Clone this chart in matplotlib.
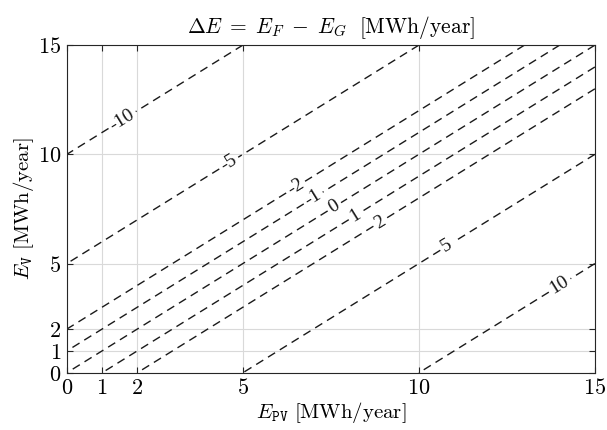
#Contour chart of energy difference
import numpy as np
import matplotlib
matplotlib.use('Agg')
import matplotlib.pyplot as plt

#Computer Modern look for the axis text
plt.rcParams['font.family'] = 'serif'
plt.rcParams['font.serif'] = ['cmr10', 'DejaVu Serif']
plt.rcParams['mathtext.fontset'] = 'cm'
plt.rcParams['axes.unicode_minus'] = False
plt.rcParams['axes.formatter.use_mathtext'] = True

#Data
e_pv = np.linspace(0, 15, 61)   #E_PV axis [MWh/year]
e_v = np.linspace(0, 15, 61)    #E_V axis [MWh/year]
levels = [-10, -5, -2, -1, 0, 1, 2, 5, 10]
ticks = [0, 1, 2, 5, 10, 15]
#Where each contour label sits
label_pos = [(1.6, 11.5), (4.6, 9.6), (6.5, 8.5), (7.0, 8.0), (7.6, 7.6),
             (8.2, 7.2), (8.9, 6.9), (10.8, 5.8), (14.0, 4.0)]

EPV, EV = np.meshgrid(e_pv, e_v)
dE = EPV - EV

fig = plt.figure(figsize=(6.07, 4.30), dpi=100)
ax = fig.add_axes([0.110, 0.133, 0.870, 0.762])

cs = ax.contour(EPV, EV, dE, levels=levels, colors='#1a1a1a',
                linestyles='--', linewidths=1.0)
cs.set_linestyle((0, (6, 4)))
labels = ax.clabel(cs, fmt='%d', manual=label_pos, inline=True,
                   inline_spacing=3, fontsize=14)
for t in labels:
    t.set_fontfamily('Liberation Serif')

ax.set_xlim(0, 15)
ax.set_ylim(0, 15)
ax.set_xticks(ticks)
ax.set_yticks(ticks)
ax.grid(True, color='#d9d9d9', linewidth=0.8)
ax.set_axisbelow(True)
ax.tick_params(direction='in', length=4, top=True, right=True,
               labelsize=16, color='#262626', pad=4)
for s in ax.spines.values():
    s.set_color('#262626')
    s.set_linewidth(0.8)

ax.set_title(r'$\Delta E \;=\; E_F \;-\; E_G\ \ [\mathrm{MWh/year}]$', fontsize=15.5, pad=9)
ax.set_xlabel(r'$E_{\mathtt{PV}}\ [\mathrm{MWh/year}]$', fontsize=15, labelpad=1)
ax.set_ylabel(r'$E_{\mathtt{V}}\ [\mathrm{MWh/year}]$', fontsize=15, labelpad=1)

fig.savefig('out.png', dpi=100)
